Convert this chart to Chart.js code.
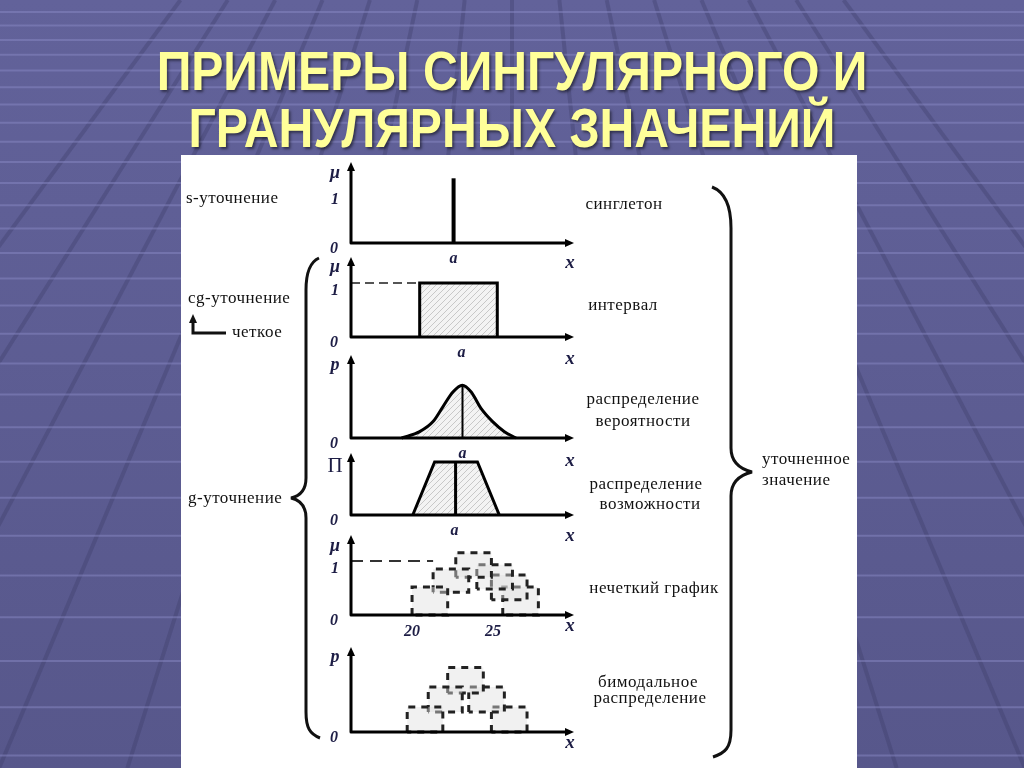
<!DOCTYPE html>
<html>
<head>
<meta charset="utf-8">
<script src="https://cdn.jsdelivr.net/npm/chart.js@4.4.0/dist/chart.umd.min.js"></script>
<style>
body{margin:0;width:1024px;height:768px;overflow:hidden;position:relative;background:#58588c;}
#bg{position:absolute;left:0;top:0;}
.title{position:absolute;left:0;width:1024px;text-align:center;font:bold 56px "Liberation Sans",Arial,sans-serif;line-height:56px;color:#ffff99;text-shadow:2px 2px 3px rgba(0,0,0,.5);transform:scaleX(.86);white-space:nowrap;}
#panel{position:absolute;left:181px;top:155px;width:676px;height:613px;background:#fff;}
canvas.plot{position:absolute;left:320px;top:155px;}
#marks{position:absolute;left:0;top:0;}
.lbl{position:absolute;font:17px "Liberation Serif",serif;letter-spacing:.5px;color:#111;line-height:1;white-space:nowrap;transform:translate(-50%,-50%);}
.lft{transform:translateY(-50%);}
</style>
</head>
<body>
<canvas id="bg" width="1024" height="768"></canvas>
<div class="title" style="top:43px">ПРИМЕРЫ СИНГУЛЯРНОГО И</div>
<div class="title" style="top:100px">ГРАНУЛЯРНЫХ ЗНАЧЕНИЙ</div>
<div id="panel"></div>

<canvas class="plot" id="c1" width="270" height="613"></canvas>
<canvas class="plot" id="c2" width="270" height="613"></canvas>
<canvas class="plot" id="c3" width="270" height="613"></canvas>
<canvas class="plot" id="c4" width="270" height="613"></canvas>
<canvas class="plot" id="c5" width="270" height="613"></canvas>
<canvas class="plot" id="c6" width="270" height="613"></canvas>

<svg id="marks" width="1024" height="768">
  <g fill="none" stroke="#111" stroke-width="3">
    <path d="M712,187 C725,192 731,205 731,228 L731,448 C731,462 740,469 752,472 C740,475 731,482 731,496 L731,730 C731,748 725,753 713,757"/>
    <path d="M319,258 C310,262 306,272 306,290 L306,478 C306,490 300,496 291,498 C300,500 306,506 306,518 L306,712 C306,728 310,734 320,738"/>
    <path d="M193,322 L193,333 L226,333"/>
  </g>
  <polygon points="193,314 189,323 197,323" fill="#111"/>
</svg>

<div class="lbl lft" style="left:186px;top:197px">s-уточнение</div>
<div class="lbl lft" style="left:188px;top:297px">cg-уточнение</div>
<div class="lbl lft" style="left:232px;top:331px">четкое</div>
<div class="lbl lft" style="left:188px;top:497px">g-уточнение</div>

<div class="lbl" style="left:624px;top:203px">синглетон</div>
<div class="lbl" style="left:623px;top:304px">интервал</div>
<div class="lbl" style="left:643px;top:398px">распределение</div>
<div class="lbl" style="left:643px;top:420px">вероятности</div>
<div class="lbl" style="left:646px;top:483px">распределение</div>
<div class="lbl" style="left:650px;top:503px">возможности</div>
<div class="lbl" style="left:654px;top:587px">нечеткий график</div>
<div class="lbl" style="left:648px;top:681px">бимодальное</div>
<div class="lbl" style="left:650px;top:697px">распределение</div>
<div class="lbl lft" style="left:762px;top:458px">уточненное</div>
<div class="lbl lft" style="left:762px;top:479px">значение</div>

<script>
// first four plots use an x scale of 0..10
var singletonX = [4.6, 4.6];
var singletonMu = [0, 1.27];

var intervalX = [3.08, 3.08, 6.56, 6.56];
var intervalMu = [0, 1, 1, 0];
var intervalGuideX = [0, 3.08];
var intervalGuideMu = [1, 1];

var probX = [2.27, 3.08, 3.68, 4.12, 4.57, 4.99, 5.39, 5.83, 6.35, 6.88, 7.40];
var probP = [0, 0.12, 0.31, 0.59, 0.87, 1.0, 0.87, 0.56, 0.31, 0.12, 0];
var probMode = 5.0;

var possX = [2.77, 3.75, 5.67, 6.65];
var possPi = [0, 1, 1, 0];
var possMode = 4.69;

var aValues = [4.6, 4.96, 5.0, 4.64];

// fuzzy graph and bimodal plots
var fuzzyTicks = [20, 25];
var fuzzyGuideX = [16.23, 21.3];
var fuzzyGuideMu = [1, 1];
var fuzzyLeft = [20.0, 21.3, 22.7, 24.0, 24.9, 25.6];
var fuzzyRight = [22.2, 23.5, 24.9, 26.2, 27.1, 27.8];
var fuzzyLow = [0, 0.42, 0.7, 0.48, 0.28, 0];
var fuzzyHigh = [0.52, 0.85, 1.15, 0.93, 0.74, 0.52];

var bimodalLeft = [19.7, 21.0, 22.2, 23.5, 24.9];
var bimodalRight = [21.9, 23.1, 24.4, 25.7, 27.1];
var bimodalLow = [0, 0.37, 0.72, 0.37, 0];
var bimodalHigh = [0.46, 0.83, 1.19, 0.83, 0.46];

function drawBackground()
{
    var g = document.getElementById('bg').getContext('2d');
    var grd = g.createLinearGradient(0, 0, 0, 768);
    grd.addColorStop(0, '#62629a');
    grd.addColorStop(1, '#57578b');
    g.fillStyle = grd;
    g.fillRect(0, 0, 1024, 768);

    g.strokeStyle = 'rgba(60,60,102,0.35)';
    g.lineWidth = 4;
    for (var k = -7; k <= 7; k++) {
        g.beginPath();
        g.moveTo(512 + k * 100 * 450 / 950, 0);
        g.lineTo(512 + k * 100 * 1218 / 950, 768);
        g.stroke();
    }

    g.strokeStyle = 'rgba(135,135,195,0.5)';
    g.lineWidth = 2;
    var y = 12;
    while (y < 768) {
        g.beginPath();
        g.moveTo(0, y);
        g.lineTo(1024, y);
        g.stroke();
        y += 13 + y * 0.05;
    }
}

function hatch()
{
    var c = document.createElement('canvas');
    c.width = 6; c.height = 6;
    var g = c.getContext('2d');
    g.fillStyle = '#f3f3f3';
    g.fillRect(0, 0, 6, 6);
    g.strokeStyle = '#c8c8c8';
    g.lineWidth = 1;
    g.beginPath(); g.moveTo(0, 6); g.lineTo(6, 0); g.stroke();
    return g.createPattern(c, 'repeat');
}

function pts(xs, ys)
{
    return xs.map(function (x, i) { return {x: x, y: ys[i]}; });
}

function boxes(l, r, lo, hi)
{
    return l.map(function (x, i) {
        return {
            data: pts([l[i], l[i], r[i], r[i], l[i]], [lo[i], hi[i], hi[i], lo[i], lo[i]]),
            borderWidth: 3, borderDash: [7, 6], borderColor: '#222',
            backgroundColor: 'rgba(225,225,225,0.45)', fill: 'shape'
        };
    });
}

var axesPlugin = {
    id: 'axes',
    afterDatasetsDraw: function (chart, args, o) {
        var ctx = chart.ctx, a = chart.chartArea;
        var xs = chart.scales.x, ys = chart.scales.y;
        ctx.save();
        ctx.strokeStyle = '#000';
        ctx.lineWidth = 3;
        ctx.lineJoin = 'round';
        ctx.beginPath();
        ctx.moveTo(a.left, a.top + 6);
        ctx.lineTo(a.left, a.bottom);
        ctx.lineTo(a.right - 6, a.bottom);
        ctx.stroke();
        ctx.fillStyle = '#000';
        ctx.beginPath();
        ctx.moveTo(a.left, a.top); ctx.lineTo(a.left - 4, a.top + 9); ctx.lineTo(a.left + 4, a.top + 9);
        ctx.fill();
        ctx.beginPath();
        ctx.moveTo(a.right, a.bottom); ctx.lineTo(a.right - 9, a.bottom - 4); ctx.lineTo(a.right - 9, a.bottom + 4);
        ctx.fill();

        ctx.fillStyle = '#1d1d45';
        ctx.textAlign = 'center';
        ctx.textBaseline = 'middle';
        ctx.font = o.plain ? '21px "Liberation Serif"' : 'italic bold 18px "Liberation Serif"';
        ctx.fillText(o.name, a.left - 16, a.top + o.nameDy);
        ctx.font = 'italic bold 16px "Liberation Serif"';
        ctx.fillText('0', a.left - 17, a.bottom + 6);
        if (o.one) ctx.fillText('1', a.left - 16, ys.getPixelForValue(1) + 8);
        if (o.a != null) ctx.fillText('a', xs.getPixelForValue(o.a), a.bottom + 16);
        (o.ticks || []).forEach(function (t) {
            ctx.fillText(String(t), xs.getPixelForValue(t), a.bottom + 17);
        });
        ctx.font = 'italic bold 19px "Liberation Serif"';
        ctx.fillText('x', a.right - 4, a.bottom + o.xDy);
        ctx.restore();
    }
};

function makeChart(id, datasets, box, labels)
{
    return new Chart(document.getElementById(id), {
        type: 'line',
        data: { datasets: datasets },
        options: {
            responsive: false,
            animation: false,
            devicePixelRatio: 1,
            layout: { padding: { left: 31, right: 16, top: box.top, bottom: box.bottom } },
            scales: {
                x: { type: 'linear', display: false, min: box.xMin, max: box.xMax },
                y: { display: false, min: 0, max: box.yMax }
            },
            datasets: { line: { clip: false } },
            elements: {
                point: { radius: 0 },
                line: { borderColor: '#000', borderWidth: 3, tension: 0, fill: false }
            },
            plugins: { legend: { display: false }, tooltip: { enabled: false }, axes: labels }
        },
        plugins: [axesPlugin]
    });
}

drawBackground();
var pattern = hatch();

makeChart('c1', [
    { data: pts(singletonX, singletonMu), borderWidth: 4 }
], { top: 7, bottom: 525, xMin: 0, xMax: 10, yMax: 1.59 },
   { name: 'μ', nameDy: 11, one: true, a: aValues[0], xDy: 20 });

makeChart('c2', [
    { data: pts(intervalGuideX, intervalGuideMu), borderWidth: 2, borderDash: [9, 5], borderColor: '#555' },
    { data: pts(intervalX, intervalMu), backgroundColor: pattern, fill: 'origin' }
], { top: 102, bottom: 431, xMin: 0, xMax: 10, yMax: 1.48 },
   { name: 'μ', nameDy: 10, one: true, a: aValues[1], xDy: 22 });

makeChart('c3', [
    { data: pts([probMode, probMode], [0, 1]), borderWidth: 2 },
    { data: pts(probX, probP), backgroundColor: pattern, fill: 'origin', cubicInterpolationMode: 'monotone' }
], { top: 200, bottom: 330, xMin: 0, xMax: 10, yMax: 1.57 },
   { name: 'p', nameDy: 10, a: aValues[2], xDy: 23 });

makeChart('c4', [
    { data: pts([possMode, possMode], [0, 1]) },
    { data: pts(possX, possPi), backgroundColor: pattern, fill: 'origin' }
], { top: 298, bottom: 253, xMin: 0, xMax: 10, yMax: 1.17 },
   { name: 'П', plain: true, nameDy: 13, a: aValues[3], xDy: 21 });

makeChart('c5', [
    { data: pts(fuzzyGuideX, fuzzyGuideMu), borderWidth: 2, borderDash: [12, 7], borderColor: '#333' }
].concat(boxes(fuzzyLeft, fuzzyRight, fuzzyLow, fuzzyHigh)),
   { top: 380, bottom: 153, xMin: 16.23, xMax: 30.0, yMax: 1.48 },
   { name: 'μ', nameDy: 11, one: true, ticks: fuzzyTicks, xDy: 11 });

makeChart('c6', boxes(bimodalLeft, bimodalRight, bimodalLow, bimodalHigh),
   { top: 492, bottom: 36, xMin: 16.23, xMax: 30.0, yMax: 1.57 },
   { name: 'p', nameDy: 10, xDy: 11 });
</script>
</body>
</html>
